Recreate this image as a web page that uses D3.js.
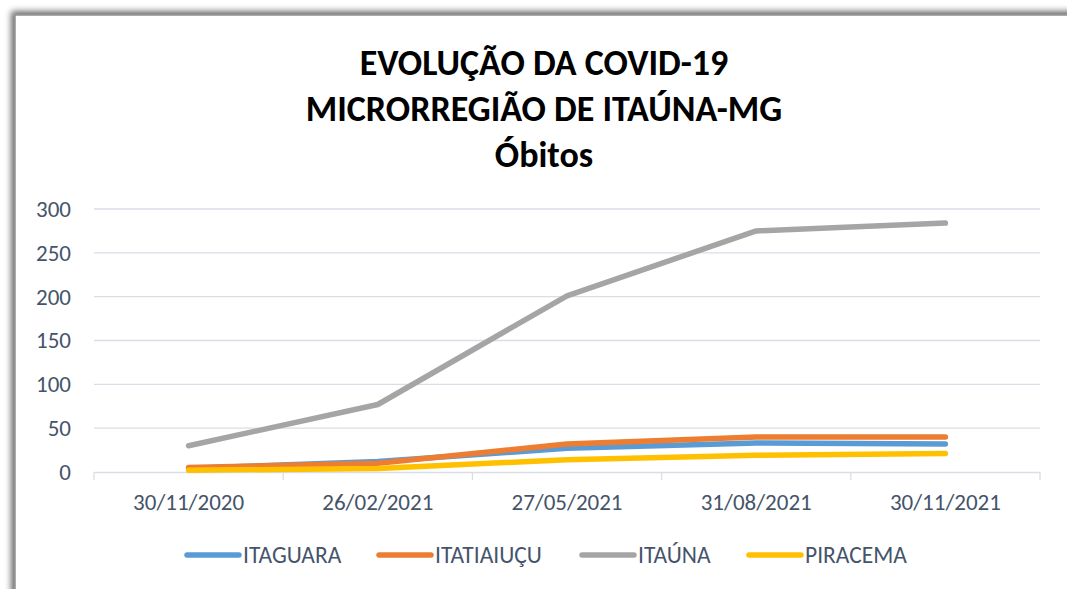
<!DOCTYPE html>
<html><head><meta charset="utf-8">
<script src="https://cdn.jsdelivr.net/npm/d3@7"></script>
<style>
html,body{margin:0;padding:0;background:#fff;}
svg{display:block;}
</style></head>
<body>
<svg id="chart" width="1067" height="589"></svg>
<script>
const categories = ["30/11/2020","26/02/2021","27/05/2021","31/08/2021","30/11/2021"];
const seriesNames = ["ITAGUARA","ITATIAIUÇU","ITAÚNA","PIRACEMA"];
const itaguara   = [4, 12, 27, 33, 32];
const itatiaiucu = [5, 10, 32, 40, 40];
const itauna     = [30, 77, 201, 275, 284];
const piracema   = [2, 4, 14, 19, 21];
const yTicks = [0, 50, 100, 150, 200, 250, 300];
const colors = ["#5B9BD5","#ED7D31","#A5A5A5","#FFC000"];

const series = [itaguara, itatiaiucu, itauna, piracema];
const svg = d3.select("#chart");
const W = 1067, H = 589;

// frame with shadow
const defs = svg.append("defs");
const f = defs.append("filter").attr("id","sh").attr("x","-5%").attr("y","-5%").attr("width","110%").attr("height","110%");
f.append("feGaussianBlur").attr("in","SourceAlpha").attr("stdDeviation",3);
f.append("feOffset").attr("dx",-3).attr("dy",-3).attr("result","b");
f.append("feFlood").attr("flood-color","#000").attr("flood-opacity",0.6);
f.append("feComposite").attr("in2","b").attr("operator","in");
const m = f.append("feMerge"); m.append("feMergeNode"); m.append("feMergeNode").attr("in","SourceGraphic");
svg.append("rect").attr("x",0).attr("y",0).attr("width",W).attr("height",H).attr("fill","#fff");
svg.append("rect").attr("x",15).attr("y",15).attr("width",W+20).attr("height",H+20)
  .attr("fill","#fff").attr("stroke","#8f8f8f").attr("stroke-width",1.5).attr("filter","url(#sh)");

const plot = {left:94, right:1040, top:209, bottom:472};
const x = d3.scaleBand().domain(categories).range([plot.left, plot.right]).padding(0);
const y = d3.scaleLinear().domain([0,300]).range([plot.bottom, plot.top]);

const textColor = "#44546A";
const font = "Carlito, Calibri, Lato, 'Open Sans', sans-serif";

// gridlines
svg.append("g").selectAll("line").data(yTicks.filter(d=>d>0)).join("line")
  .attr("x1",plot.left).attr("x2",plot.right)
  .attr("y1",d=>y(d)).attr("y2",d=>y(d))
  .attr("stroke","#D9DEE6").attr("stroke-width",1.3);

// y axis labels
const yAxis = d3.axisLeft(y).tickValues(yTicks).tickSize(0).tickPadding(23);
const ya = svg.append("g").attr("transform",`translate(${plot.left},0)`).call(yAxis);
ya.select(".domain").remove();
ya.selectAll("text").attr("font-family",font).attr("font-size",23).attr("fill",textColor);

// x axis
const xAxis = d3.axisBottom(x).tickSize(0).tickPadding(22);
const xa = svg.append("g").attr("transform",`translate(0,${plot.bottom})`).call(xAxis);
xa.select(".domain").attr("stroke","#D9DEE6").attr("stroke-width",1.3);
xa.selectAll("text").attr("font-family",font).attr("font-size",23).attr("fill",textColor);
const bounds = categories.map(c=>x(c)).concat([plot.right]);
svg.append("g").selectAll("line").data(bounds).join("line")
  .attr("x1",d=>d).attr("x2",d=>d).attr("y1",plot.bottom).attr("y2",plot.bottom+8)
  .attr("stroke","#D9DEE6").attr("stroke-width",1.3);

// lines
const line = d3.line().x((d,i)=>x(categories[i])+x.bandwidth()/2).y(d=>y(d));
series.forEach((s,k)=>{
  svg.append("path").datum(s).attr("d",line).attr("fill","none")
    .attr("stroke",colors[k]).attr("stroke-width",5.5)
    .attr("stroke-linecap","round").attr("stroke-linejoin","round");
});

// title
const titleLines = ["EVOLUÇÃO DA COVID-19","MICRORREGIÃO DE ITAÚNA-MG","Óbitos"];
svg.append("g").selectAll("text").data(titleLines).join("text")
  .attr("x",544).attr("y",(d,i)=>75+i*46)
  .attr("text-anchor","middle").attr("font-family",font).attr("font-weight","bold")
  .attr("font-size",36).attr("fill","#000").text(d=>d);

// legend
const legX = [185, 377, 580, 747];
const lg = svg.append("g").selectAll("g").data(seriesNames).join("g")
  .attr("transform",(d,i)=>`translate(${legX[i]},555)`);
lg.append("line").attr("x1",2).attr("x2",54).attr("y1",0).attr("y2",0)
  .attr("stroke",(d,i)=>colors[i]).attr("stroke-width",5.5).attr("stroke-linecap","round");
lg.append("text").attr("x",58).attr("y",8).attr("font-family",font).attr("font-size",23.5)
  .attr("fill",textColor).text(d=>d);
</script>
</body></html>
